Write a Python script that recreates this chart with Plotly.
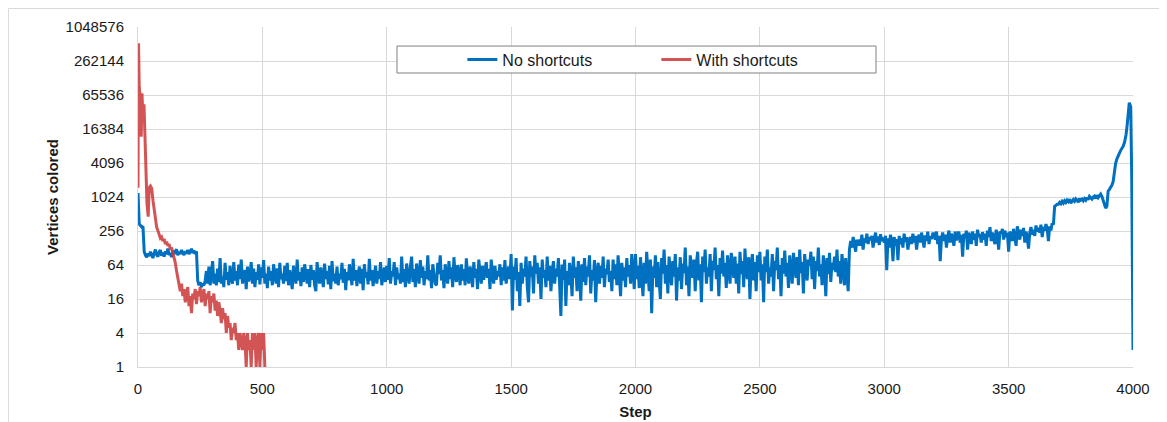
import numpy as np
import plotly.graph_objects as go

# ---------------- data ----------------
blue_steps = list(range(0, 3960, 5)) + [3960, 3966, 3972, 3977, 3981, 3985, 3991, 3995, 4000]
blue_values = [
    # 0-95
    1200, 340, 320, 300, 310, 110, 95, 88, 102, 92, 110, 96, 85, 104, 120, 98, 90, 108, 118, 94,
    # 100-195
    106, 90, 112, 100, 125, 96, 104, 88, 115, 100, 108, 122, 95, 110, 100, 118, 104, 96, 112, 102,
    # 200-295
    118, 100, 110, 124, 104, 115, 100, 112, 34, 28, 32, 26, 30, 28, 34, 50, 30, 60, 28, 45,
    # 300-395
    75, 30, 45, 28, 55, 32, 85, 30, 40, 26, 70, 35, 48, 28, 62, 38, 30, 72, 34, 50,
    # 400-495
    28, 65, 36, 80, 30, 44, 52, 24, 60, 33, 40, 72, 30, 55, 26, 48, 35, 66, 29, 58,
    # 500-595
    38, 78, 30, 45, 25, 60, 34, 50, 28, 66, 40, 30, 56, 26, 70, 36, 45, 30, 62, 33,
    # 600-695
    70, 28, 52, 36, 24, 62, 40, 30, 80, 34, 48, 27, 58, 32, 66, 38, 30, 54, 26, 64,
    # 700-795
    35, 52, 28, 22, 72, 40, 30, 58, 33, 26, 68, 36, 50, 29, 62, 24, 75, 33, 45, 30,
    # 800-895
    60, 28, 45, 36, 70, 31, 55, 23, 48, 34, 66, 38, 28, 82, 34, 52, 27, 44, 60, 30,
    # 900-995
    55, 23, 66, 38, 48, 29, 82, 34, 52, 27, 40, 62, 30, 50, 36, 72, 28, 46, 58, 32,
    # 1000-1095
    62, 35, 85, 30, 50, 40, 72, 28, 58, 36, 45, 30, 90, 32, 54, 26, 68, 42, 30, 60,
    # 1100-1195
    90, 32, 54, 26, 68, 42, 30, 78, 38, 60, 28, 50, 36, 95, 34, 52, 25, 66, 40, 30,
    # 1200-1295
    28, 70, 44, 95, 34, 52, 25, 66, 40, 30, 75, 36, 58, 26, 88, 42, 32, 64, 48, 28,
    # 1300-1395
    66, 34, 54, 28, 84, 40, 30, 60, 46, 26, 72, 38, 55, 24, 80, 45, 30, 62, 35, 50,
    # 1400-1495
    72, 38, 55, 24, 80, 45, 30, 62, 35, 50, 40, 66, 28, 58, 34, 78, 30, 46, 60, 36,
    # 1500-1595
    100, 10, 60, 35, 85, 22, 48, 12, 70, 30, 55, 40, 90, 26, 14, 75, 40, 60, 20, 95,
    # 1600-1695
    45, 70, 30, 58, 16, 80, 38, 52, 26, 90, 34, 62, 22, 48, 75, 30, 55, 40, 85, 28,
    # 1700-1795
    8, 65, 35, 80, 12, 50, 28, 70, 42, 18, 90, 38, 58, 22, 75, 46, 15, 66, 32, 85,
    # 1800-1895
    28, 60, 40, 95, 20, 52, 34, 78, 14, 48, 70, 30, 62, 38, 90, 26, 55, 44, 80, 32,
    # 1900-1995
    50, 22, 80, 36, 66, 28, 95, 42, 18, 70, 34, 58, 26, 85, 40, 64, 30, 100, 46, 24,
    # 2000-2095
    100, 36, 62, 25, 88, 44, 18, 70, 30, 110, 50, 22, 80, 9, 60, 38, 95, 26, 72, 40,
    # 2100-2195
    16, 85, 45, 120, 30, 64, 20, 90, 52, 28, 75, 40, 100, 15, 58, 34, 88, 24, 68, 46,
    # 2200-2295
    130, 28, 60, 18, 95, 50, 38, 80, 22, 70, 110, 34, 66, 14, 90, 48, 120, 30, 58, 40,
    # 2300-2395
    100, 22, 76, 52, 130, 36, 64, 18, 85, 45, 115, 40, 70, 25, 95, 55, 30, 105, 60, 38,
    # 2400-2495
    90, 30, 68, 20, 110, 44, 75, 26, 125, 50, 36, 88, 16, 64, 100, 34, 72, 22, 95, 48,
    # 2500-2595
    110, 34, 66, 14, 90, 48, 120, 30, 58, 40, 100, 22, 76, 52, 130, 36, 64, 18, 85, 45,
    # 2600-2695
    115, 40, 70, 25, 95, 55, 30, 105, 60, 38, 88, 28, 120, 46, 72, 20, 100, 54, 34, 80,
    # 2700-2795
    62, 110, 36, 90, 24, 75, 50, 130, 40, 66, 28, 95, 58, 18, 85, 44, 105, 32, 70, 52,
    # 2800-2895
    90, 48, 120, 40, 75, 30, 100, 56, 28, 85, 40, 22, 120, 170, 130, 200, 150, 110, 180, 140,
    # 2900-2995
    180, 140, 220, 120, 190, 160, 230, 150, 200, 175, 210, 130, 185, 240, 160, 205, 145, 225, 170, 195,
    # 3000-3095
    160, 210, 52, 190, 130, 220, 170, 75, 200, 140, 185, 78, 210, 150, 190, 130, 230, 165, 200, 120,
    # 3100-3195
    170, 200, 150, 230, 160, 210, 120, 190, 220, 160, 240, 180, 130, 215, 170, 250, 150, 205, 185, 230,
    # 3200-3295
    230, 180, 250, 150, 210, 75, 190, 240, 170, 220, 130, 200, 260, 160, 230, 190, 140, 250, 175, 215,
    # 3300-3395
    250, 160, 220, 90, 230, 190, 260, 120, 240, 200, 150, 250, 180, 230, 140, 270, 200, 225, 160, 245,
    # 3400-3495
    180, 230, 140, 260, 200, 300, 170, 240, 190, 150, 270, 210, 120, 250, 230, 280, 180, 260, 200, 240,
    # 3500-3595
    110, 250, 220, 170, 280, 200, 140, 310, 230, 180, 270, 210, 290, 160, 250, 200, 125, 240, 300, 220,
    # 3600-3695
    270, 210, 320, 250, 290, 240, 330, 200, 300, 260, 340, 280, 170, 310, 260, 350, 330, 700, 730, 760,
    # 3700-3795
    760, 820, 780, 860, 800, 880, 820, 900, 850, 940, 800, 880, 920, 860, 950, 900, 830, 960, 900, 940,
    # 3800-3895
    880, 960, 900, 1000, 920, 1050, 980, 940, 1020, 1060, 960, 1100, 1000, 1080, 1150, 1050, 900, 760, 650, 700,
    # 3900-3955
    1300, 1400, 1500, 1650, 1900, 2800, 4000, 4800, 5500, 6000, 6800, 7400,
    # tail 3960-4000
    8000, 9500, 13000, 20000, 32000, 48000, 40000, 2000, 2,
]

red_steps = [0, 2, 5, 9, 13, 16, 20, 24, 28, 32, 36, 41, 45] + list(range(50, 520, 5))
red_values = [
    1500, 540000, 90000, 60000, 12000, 70000, 25000, 45000, 12000, 2500, 800, 460, 1500,
    1600, 1450, 900, 600, 420, 300, 260, 220, 190, 200,
    170, 185, 150, 165, 140, 150, 120, 130, 105, 95,
    70, 50, 38, 28, 22, 30, 18, 24, 14, 20,
    26, 12, 18, 9, 20, 16, 24, 13, 22, 18,
    26, 14, 20, 24, 12, 20, 16, 22, 9, 18,
    14, 20, 10, 15, 8, 14, 10, 6, 11, 7,
    9, 4, 8, 5, 6, 3, 5, 4, 6, 3,
    4, 2, 4, 3, 2, 4, 3, 1, 4, 2,
    3, 1, 4, 2, 4, 1, 3, 4, 1, 4,
    2, 4, 1, 1,
]

y_tick_vals = [1, 4, 16, 64, 256, 1024, 4096, 16384, 65536, 262144, 1048576]
y_tick_text = [str(v) for v in y_tick_vals]
x_tick_vals = [0, 500, 1000, 1500, 2000, 2500, 3000, 3500, 4000]

series_names = ["No shortcuts", "With shortcuts"]

# ---------------- figure ----------------
FONT = "Liberation Sans, Arial, sans-serif"
GRID = "#d9d9d9"

fig = go.Figure()
fig.add_trace(go.Scatter(
    x=blue_steps, y=blue_values, mode="lines", name=series_names[0],
    line=dict(color="#0070c0", width=3),
))
fig.add_trace(go.Scatter(
    x=red_steps, y=red_values, mode="lines", name=series_names[1],
    line=dict(color="rgba(205,60,60,0.88)", width=3),
))

# the page body adds an 8 px offset, so the figure is 8 px smaller
fig.update_layout(
    width=1159, height=414,
    margin=dict(l=130, r=34, t=19, b=55),
    paper_bgcolor="white", plot_bgcolor="white",
    font=dict(family=FONT, size=15, color="#1a1a1a"),
    showlegend=True,
    legend=dict(
        orientation="h", x=0.326, xanchor="left", y=0.904, yanchor="middle",
        bgcolor="rgba(0,0,0,0)", borderwidth=0,
        font=dict(family=FONT, size=16, color="#1a1a1a"),
        entrywidth=149, entrywidthmode="pixels",
    ),
    xaxis=dict(
        range=[0, 4000], tickvals=x_tick_vals, ticks="",
        showgrid=True, gridcolor=GRID, gridwidth=1,
        showline=True, linecolor=GRID, linewidth=1,
        zeroline=False, ticklabelstandoff=8, automargin=False,
        tickfont=dict(size=15),
        title=dict(text="<b>Step</b>", font=dict(size=15), standoff=10),
    ),
    yaxis=dict(
        type="log", range=[0, np.log10(1048576)],
        tickvals=y_tick_vals, ticktext=y_tick_text, ticks="",
        showgrid=True, gridcolor=GRID, gridwidth=1,
        showline=True, linecolor=GRID, linewidth=1,
        zeroline=False, ticklabelstandoff=10, automargin=False,
        tickfont=dict(size=15),
        title=dict(text="<b>Vertices colored</b>", font=dict(size=15), standoff=3),
    ),
    shapes=[
        dict(type="rect", xref="paper", yref="paper",
             x0=0.2603, x1=0.7417, y0=0.8647, y1=0.944,
             line=dict(color="#808080", width=1), fillcolor="white", layer="above"),
        dict(type="rect", xref="paper", yref="paper",
             x0=-0.1302, x1=1.04, y0=-0.2, y1=1.0544,
             line=dict(color=GRID, width=1), fillcolor="rgba(0,0,0,0)", layer="below"),
    ],
)

fig.write_html("out.html")
